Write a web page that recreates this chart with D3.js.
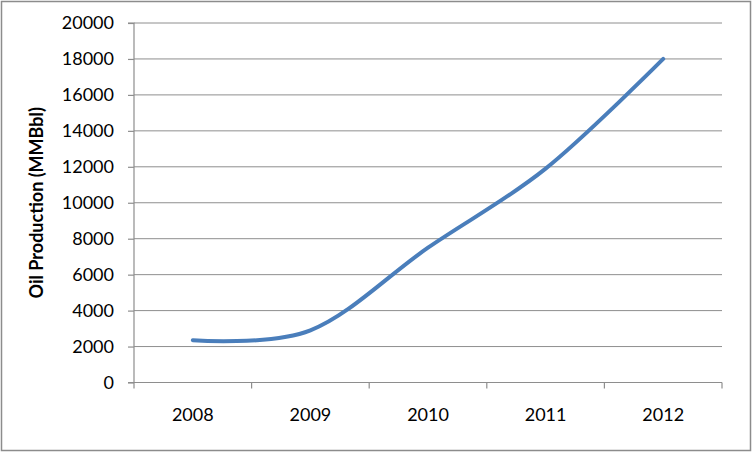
<!DOCTYPE html>
<html><head><meta charset="utf-8">
<script src="https://cdn.jsdelivr.net/npm/d3@7"></script>
<style>html,body{margin:0;padding:0;background:#fff}</style>
</head><body>
<svg id="c" width="753" height="453"></svg>
<script>
const years = ["2008","2009","2010","2011","2012"];
const production = [2350, 2900, 7500, 11900, 18000];
const yTicks = [0,2000,4000,6000,8000,10000,12000,14000,16000,18000,20000];
const yTitle = "Oil Production (MMBbl)";

const svg = d3.select("#c");
const font = "Lato, 'Open Sans', sans-serif";
const L = 134, R = 722, T = 23, B = 382.5;

svg.append("rect").attr("x",1.5).attr("y",1.5).attr("width",749).attr("height",449)
  .attr("fill","#fff").attr("stroke","#8c8c8c").attr("stroke-width",1.5);

const x = d3.scaleBand().domain(years).range([L,R]).padding(0);
const y = d3.scaleLinear().domain([0,20000]).range([B,T]);

// gridlines
svg.append("g").selectAll("line").data(yTicks.filter(d=>d>0)).join("line")
  .attr("x1",L).attr("x2",R).attr("y1",d=>y(d)).attr("y2",d=>y(d))
  .attr("stroke","#8e8e8e").attr("stroke-width",1);

// y axis
const ya = svg.append("g").attr("transform",`translate(${L},0)`)
  .call(d3.axisLeft(y).tickValues(yTicks).tickSize(6).tickPadding(14).tickFormat(d3.format("d")));
ya.select(".domain").attr("stroke","#8e8e8e").attr("d",`M-6,${T}H0V${B}H-6`).attr("stroke-width",1.2);
ya.selectAll(".tick line").attr("stroke","#8e8e8e").attr("stroke-width",1.2);
ya.selectAll("text").attr("font-family",font).attr("font-size",18).attr("fill","#000");

// x axis
const xa = svg.append("g").attr("transform",`translate(0,${B})`)
  .call(d3.axisBottom(x).tickSize(0).tickPadding(26));
xa.select(".domain").attr("stroke","#8e8e8e").attr("stroke-width",1.2).attr("d",`M${L},0H${R}`);
xa.selectAll("text").attr("font-family",font).attr("font-size",18).attr("fill","#000");
const bounds = years.map(d=>x(d)).concat([x(years[years.length-1])+x.bandwidth()]);
xa.append("g").selectAll("line").data(bounds).join("line")
  .attr("x1",d=>d).attr("x2",d=>d).attr("y1",0).attr("y2",6)
  .attr("stroke","#8e8e8e").attr("stroke-width",1.2);

// title
svg.append("text").attr("transform",`translate(43,${(T+B)/2}) rotate(-90)`)
  .attr("text-anchor","middle").attr("font-family",font).attr("font-weight","bold")
  .attr("font-size",18).text(yTitle);

// line
const line = d3.line().x((d,i)=>x(years[i])+x.bandwidth()/2).y(d=>y(d)).curve(d3.curveCardinal);
svg.append("path").datum(production).attr("d",line).attr("fill","none")
  .attr("stroke","#4a7ebb").attr("stroke-width",4).attr("stroke-linecap","round");
</script>
</body></html>
